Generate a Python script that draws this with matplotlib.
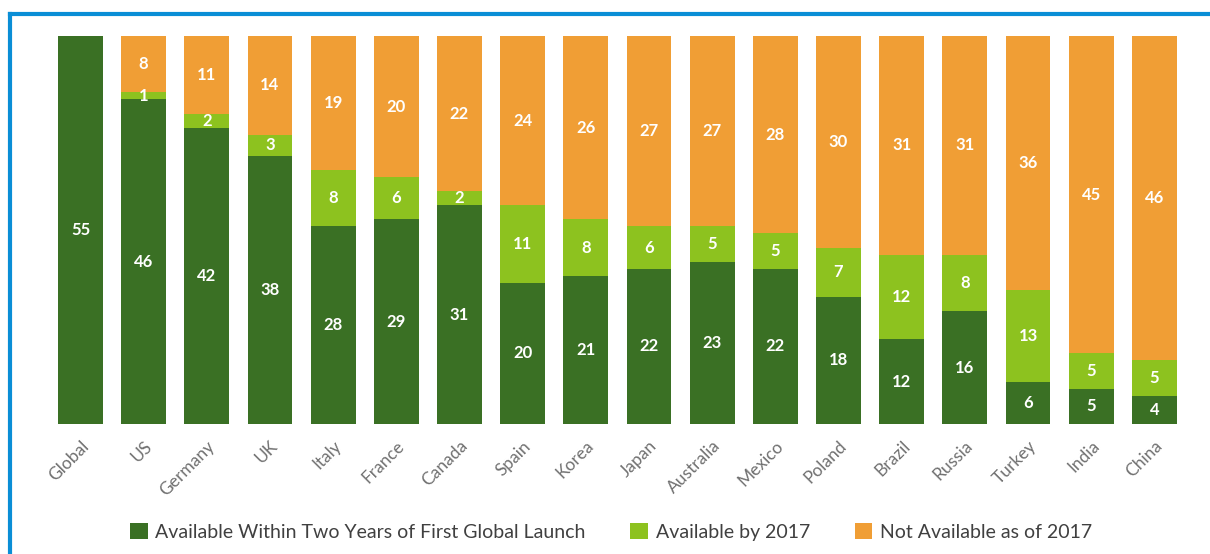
import numpy as np
import matplotlib.pyplot as plt
from matplotlib.lines import Line2D

plt.rcParams['font.family'] = ['Lato', 'DejaVu Sans']

countries = ['Global', 'US', 'Germany', 'UK', 'Italy', 'France', 'Canada', 'Spain', 'Korea',
             'Japan', 'Australia', 'Mexico', 'Poland', 'Brazil', 'Russia', 'Turkey', 'India', 'China']
within_two_years = [55, 46, 42, 38, 28, 29, 31, 20, 21, 22, 23, 22, 18, 12, 16, 6, 5, 4]
by_2017 = [0, 1, 2, 3, 8, 6, 2, 11, 8, 6, 5, 5, 7, 12, 8, 13, 5, 5]
not_available = [0, 8, 11, 14, 19, 20, 22, 24, 26, 27, 27, 28, 30, 31, 31, 36, 45, 46]
series_names = ['Available Within Two Years of First Global Launch',
                'Available by 2017', 'Not Available as of 2017']

colors = ['#3a7024', '#8dc21f', '#f09e35']

fig = plt.figure(figsize=(12.1, 5.54), dpi=100)
ax = fig.add_axes([0.0404, 0.2347, 0.9397, 0.7004])

x = np.arange(len(countries))
bottom = np.zeros(len(countries))
for vals, col, name in zip([within_two_years, by_2017, not_available], colors, series_names):
    vals = np.array(vals, dtype=float)
    ax.bar(x, vals, bottom=bottom, width=0.71, color=col, label=name)
    for xi, b, v in zip(x, bottom, vals):
        if v > 0:
            ax.text(xi, b + v / 2, f'{int(v)}', ha='center', va='center',
                    color='white', fontsize=12, fontweight='bold')
    bottom += vals

ax.set_xlim(-0.5, len(countries) - 0.5)
ax.set_ylim(0, 55)
ax.set_xticks(x)
ax.set_xticklabels(countries, rotation=45, ha='right', rotation_mode='anchor',
                   color='#707070', fontsize=12.5)
ax.tick_params(axis='x', length=0, pad=10)
ax.set_yticks([])
for s in ax.spines.values():
    s.set_visible(False)

handles, labels = ax.get_legend_handles_labels()
fig.legend(handles, labels, loc='center', bbox_to_anchor=(0.505, 0.04), ncol=3,
           frameon=False, fontsize=14, handlelength=0.9, handleheight=0.9,
           handletextpad=0.4, columnspacing=2.3, labelcolor='#404040')

# blue frame around the panel
fig.add_artist(Line2D([10 / 1210, 10 / 1210], [0, 1 - 14 / 554], color='#0a8ed6', lw=3))
fig.add_artist(Line2D([10 / 1210, 1], [1 - 14 / 554, 1 - 14 / 554], color='#0a8ed6', lw=3))

fig.savefig('out.png', dpi=100)
